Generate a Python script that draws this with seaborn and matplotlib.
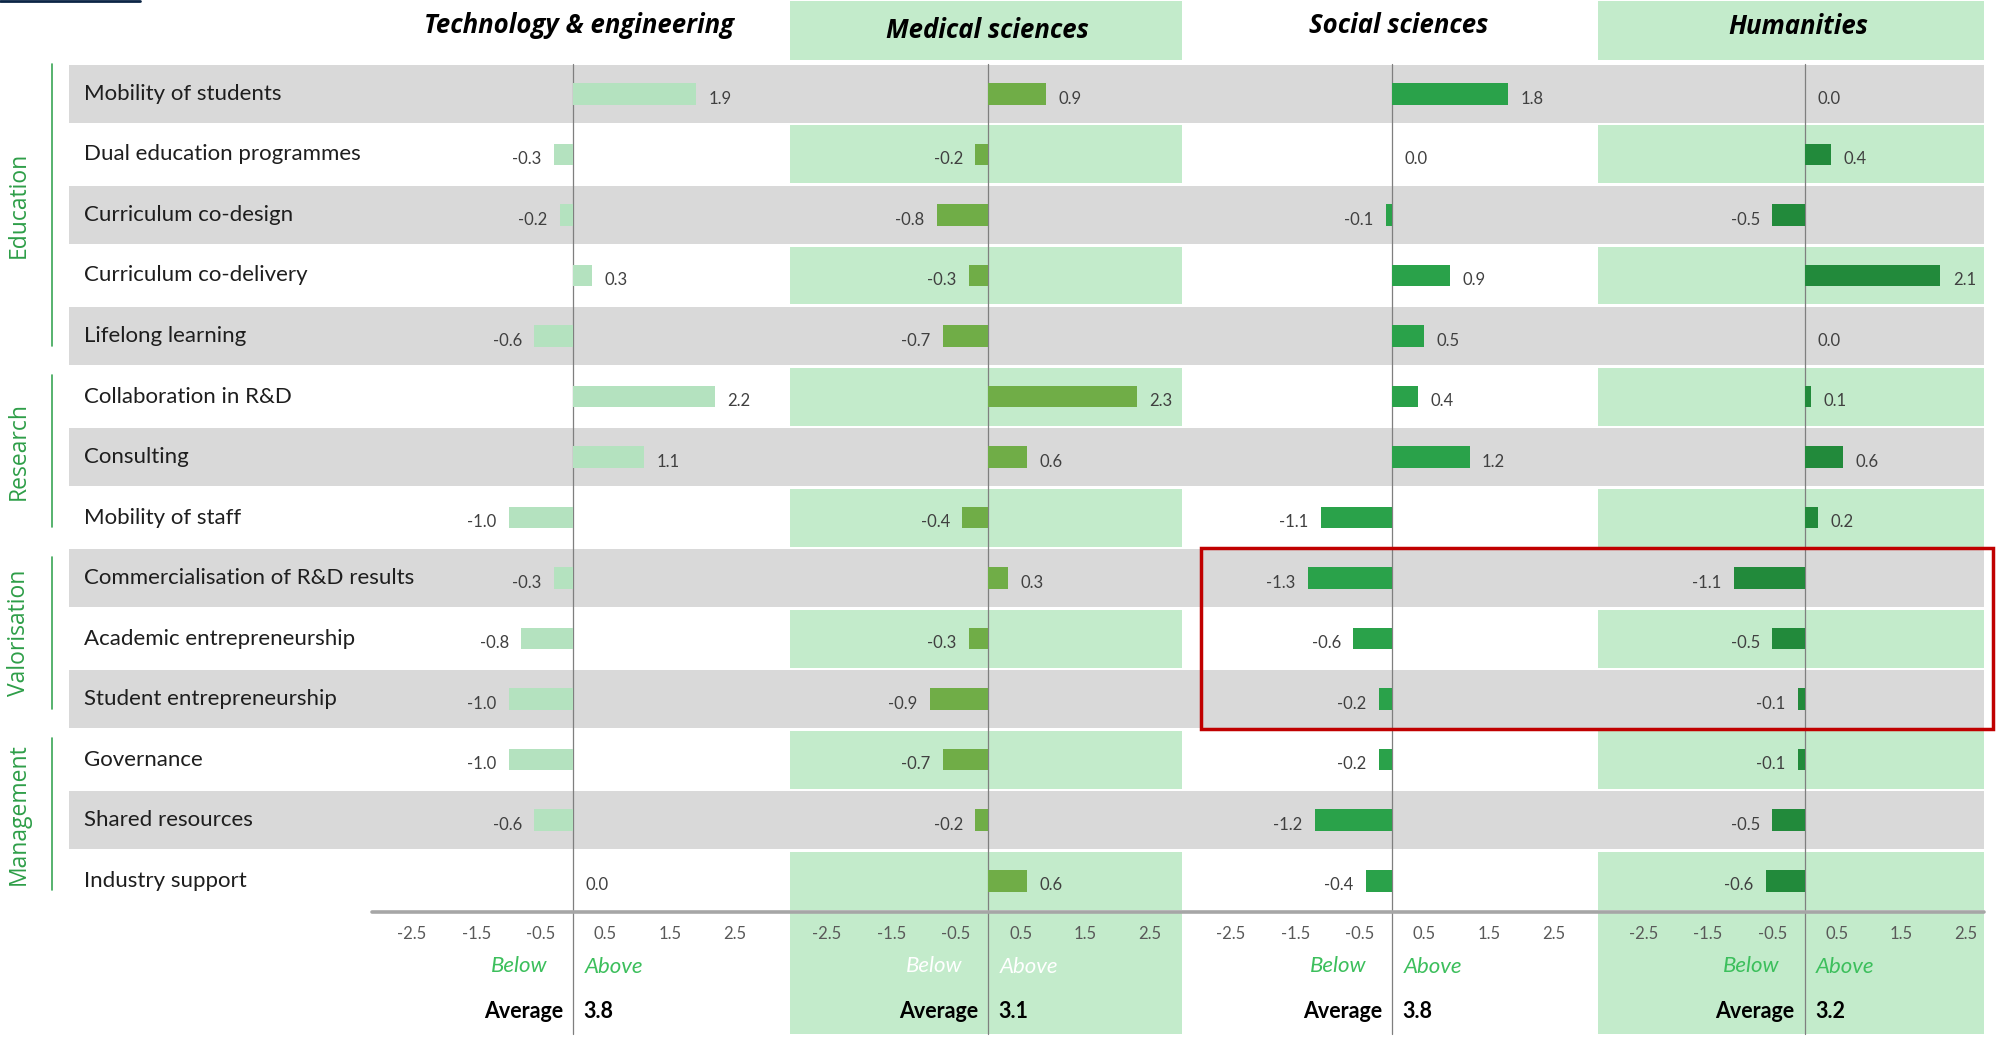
import matplotlib
matplotlib.use("Agg")
import matplotlib.pyplot as plt
import seaborn as sns
from matplotlib.patches import Rectangle

# ---- data ----
indicators = [
    "Mobility of students", "Dual education programmes", "Curriculum co-design",
    "Curriculum co-delivery", "Lifelong learning", "Collaboration in R&D",
    "Consulting", "Mobility of staff", "Commercialisation of R&D results",
    "Academic entrepreneurship", "Student entrepreneurship", "Governance",
    "Shared resources", "Industry support",
]
groups = ["Education", "Research", "Valorisation", "Management"]
group_rows = [(0, 4), (5, 7), (8, 10), (11, 13)]
fields = ["Technology & engineering", "Medical sciences", "Social sciences", "Humanities"]
tech = [1.9, -0.3, -0.2, 0.3, -0.6, 2.2, 1.1, -1.0, -0.3, -0.8, -1.0, -1.0, -0.6, 0.0]
medical = [0.9, -0.2, -0.8, -0.3, -0.7, 2.3, 0.6, -0.4, 0.3, -0.3, -0.9, -0.7, -0.2, 0.6]
social = [1.8, 0.0, -0.1, 0.9, 0.5, 0.4, 1.2, -1.1, -1.3, -0.6, -0.2, -0.2, -1.2, -0.4]
humanities = [0.0, 0.4, -0.5, 2.1, 0.0, 0.1, 0.6, 0.2, -1.1, -0.5, -0.1, -0.1, -0.5, -0.6]
averages = [3.8, 3.1, 3.8, 3.2]
ticks = [-2.5, -1.5, -0.5, 0.5, 1.5, 2.5]

series = [tech, medical, social, humanities]
bar_colors = ["#B4E2BF", "#70AD47", "#2AA24A", "#228A3B"]
GREEN_BG = "#C3EBCB"
GRAY_BG = "#D9D9D9"
NARROW = ["Liberation Sans Narrow", "Lato", "DejaVu Sans"]
WIDE = ["Open Sans", "DejaVu Sans"]

sns.set_style("white")
plt.rcParams["font.family"] = ["Lato", "DejaVu Sans"]

# layout in reference pixels (1568 x 814 view)
W, H = 1568, 814
TOP, BOTTOM = 50, 715
ROW = (BOTTOM - TOP) / len(indicators)
zeros = [450, 776, 1093, 1417]
PX_PER_UNIT = 50.7
LIM = 3.1
shaded_cols = [(620, 928), (1255, 1558)]

fig = plt.figure(figsize=(19.97, 10.37), dpi=100)
bg = fig.add_axes([0, 0, 1, 1], zorder=0)
bg.set_xlim(0, W)
bg.set_ylim(H, 0)
bg.axis("off")

# row bands
for i in range(len(indicators)):
    top = TOP + ROW * i + 1
    if i % 2 == 0:
        bg.add_patch(Rectangle((54, top), 1558 - 54, ROW - 2, color=GRAY_BG, lw=0))
    else:
        for x0, x1 in shaded_cols:
            bg.add_patch(Rectangle((x0, top), x1 - x0, ROW - 2, color=GREEN_BG, lw=0))
# header and footer blocks of the shaded panels
for x0, x1 in shaded_cols:
    bg.add_patch(Rectangle((x0, 1), x1 - x0, TOP - 4, color=GREEN_BG, lw=0))
    bg.add_patch(Rectangle((x0, BOTTOM + 2), x1 - x0, 812 - BOTTOM - 2, color=GREEN_BG, lw=0))

bg.plot([0, 110], [0.8, 0.8], color="#0B2545", lw=2)

# row labels
for i, name in enumerate(indicators):
    bg.text(66, TOP + ROW * (i + 0.5), name, va="center", ha="left",
            fontsize=16, color="#1E1E1E")

# group labels with green lines
for name, (r0, r1) in zip(groups, group_rows):
    y0 = TOP + ROW * r0 + (0 if r0 == 0 else 7)
    y1 = TOP + ROW * (r1 + 1) - 16
    bg.plot([41, 41], [y0, y1], color="#3AA655", lw=1.2)
    bg.text(15, (y0 + y1) / 2, name, rotation=90, va="center", ha="center",
            fontsize=16.5, color="#2E9E48", family=WIDE)

# zero lines and x axis line
for z in zeros:
    bg.plot([z, z], [TOP, 812], color="#7F7F7F", lw=0.9, zorder=3)
bg.plot([292, 1558], [BOTTOM + 1, BOTTOM + 1], color="#A6A6A6", lw=2.6, zorder=3)

header_x = [455, 775, 1098, 1412]
header_y = [20, 24, 20, 21]
for k, (field, vals, col, z) in enumerate(zip(fields, series, bar_colors, zeros)):
    ax = fig.add_axes([(z - LIM * PX_PER_UNIT) / W, 1 - BOTTOM / H,
                       2 * LIM * PX_PER_UNIT / W, (BOTTOM - TOP) / H], zorder=2)
    ax.patch.set_alpha(0)
    sns.barplot(x=vals, y=indicators, orient="h", color=col, saturation=1,
                width=0.36, linewidth=0, ax=ax)
    ax.set_xlim(-LIM, LIM)
    ax.set_ylim(len(indicators) - 0.5, -0.5)
    ax.set_yticks([])
    ax.set_xlabel("")
    ax.set_ylabel("")
    for s in ax.spines.values():
        s.set_visible(False)
    ax.set_xticks(ticks)
    ax.set_xticklabels([f"{t:.1f}" for t in ticks])
    ax.tick_params(axis="x", length=0, pad=11, labelsize=12, labelcolor="#595959")
    for lab in ax.get_xticklabels():
        lab.set_family(NARROW)

    # value labels
    for i, v in enumerate(vals):
        off = -9 if v < 0 else 9
        ax.annotate(f"{v:.1f}", (v, i + 0.08), xytext=(off, 0), textcoords="offset points",
                    ha="right" if v < 0 else "left", va="center",
                    fontsize=12, color="#404040", family=NARROW)

    bg.text(header_x[k], header_y[k], field, ha="center", va="center",
            fontsize=18.5, fontweight="bold", fontstyle="italic", color="black",
            family=WIDE)

    ba_col = "white" if k == 1 else "#3CBF5C"
    bg.text(z - 20, 758, "Below", ha="right", va="center", fontsize=16,
            fontstyle="italic", color=ba_col, family=NARROW)
    bg.text(z + 9, 759, "Above", ha="left", va="center", fontsize=16,
            fontstyle="italic", color=ba_col, family=NARROW)
    bg.text(z - 8, 794, "Average", ha="right", va="center", fontsize=15.5,
            fontweight="bold", color="black", family=NARROW)
    bg.text(z + 8, 794, f"{averages[k]:.1f}", ha="left", va="center", fontsize=15.5,
            fontweight="bold", color="black", family=NARROW)

# highlight box
bg.add_patch(Rectangle((943, 430), 1565 - 943, 572 - 430, fill=False,
                       edgecolor="#C00000", lw=2.5, zorder=5))

fig.savefig("out.png", dpi=100)
